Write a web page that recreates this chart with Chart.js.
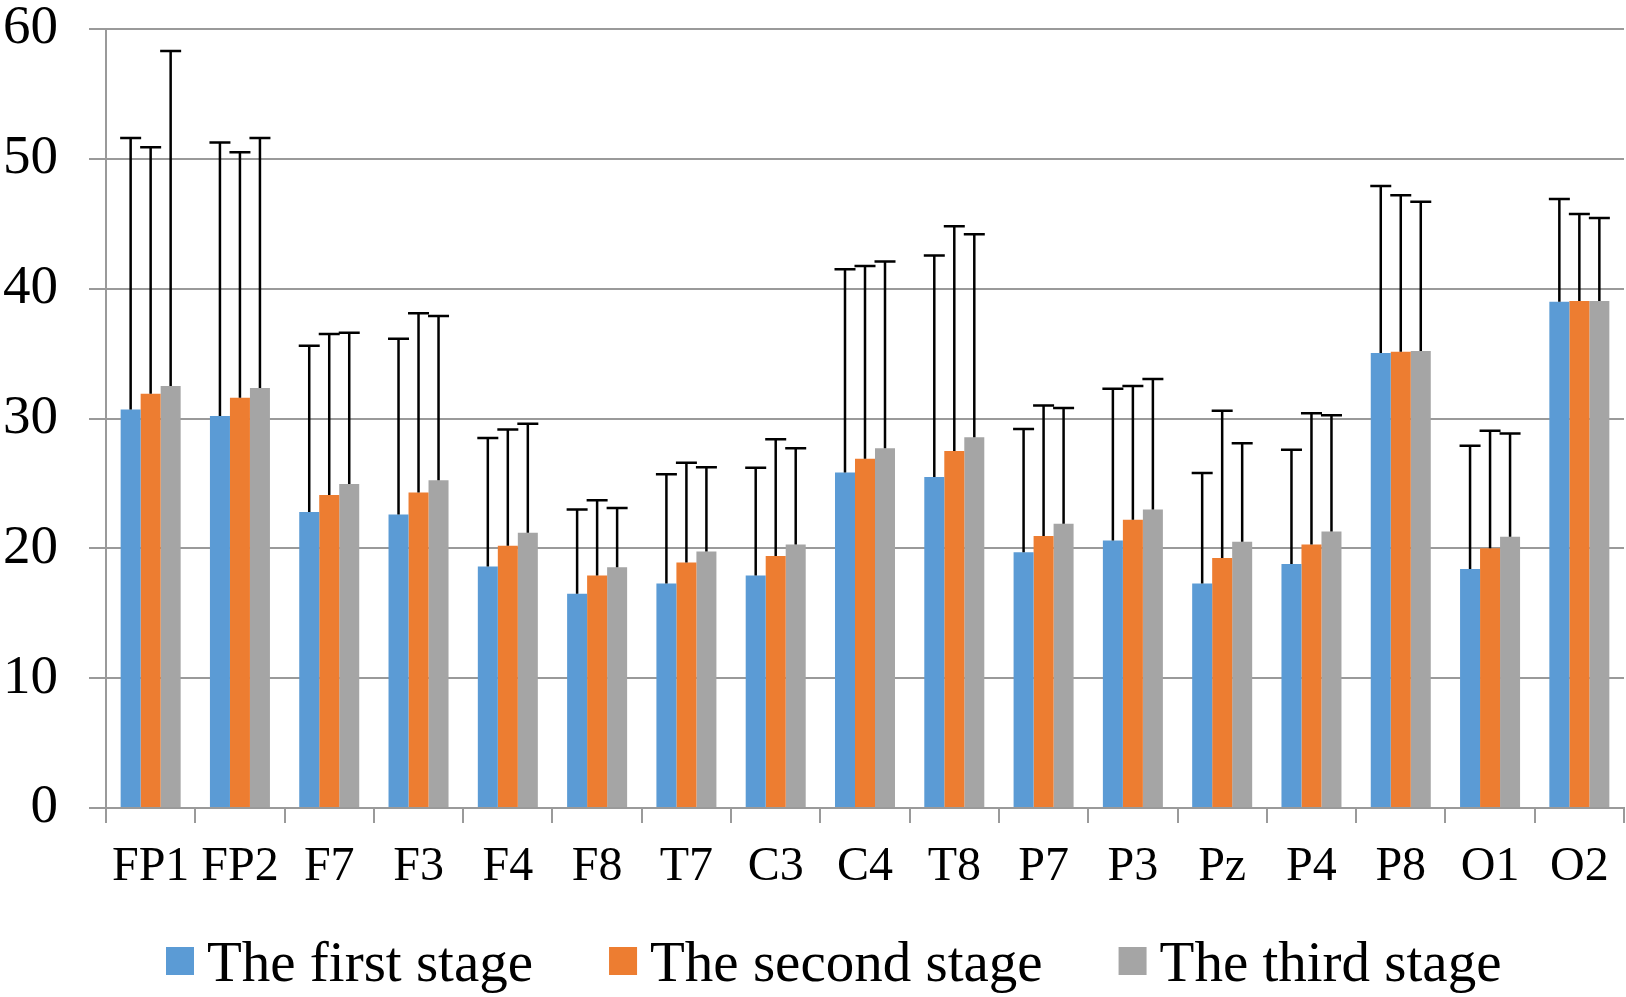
<!DOCTYPE html>
<html>
<head>
<meta charset="utf-8">
<script src="https://cdn.jsdelivr.net/npm/chart.js@4.4.1/dist/chart.umd.min.js"></script>
<style>
  html, body { margin: 0; padding: 0; background: #ffffff; }
  #wrap { width: 1626px; height: 997px; }
</style>
</head>
<body>
<div id="wrap"><canvas id="c" width="1626" height="997"></canvas></div>
<script>
const categories = ['FP1','FP2','F7','F3','F4','F8','T7','C3','C4','T8','P7','P3','Pz','P4','P8','O1','O2'];
const seriesNames = ['The first stage', 'The second stage', 'The third stage'];

const firstStage  = [30.7, 30.2, 22.8, 22.6, 18.6, 16.5, 17.3, 17.9, 25.85, 25.5, 19.7, 20.6, 17.3, 18.8, 35.05, 18.4, 39.0];
const secondStage = [31.9, 31.6, 24.1, 24.3, 20.2, 17.9, 18.9, 19.4, 26.9, 27.5, 20.95, 22.2, 19.25, 20.3, 35.15, 20.0, 39.05];
const thirdStage  = [32.5, 32.35, 24.95, 25.25, 21.2, 18.55, 19.75, 20.3, 27.7, 28.55, 21.9, 23.0, 20.5, 21.3, 35.2, 20.9, 39.05];

const firstSD  = [20.9, 21.05, 12.8, 13.55, 9.9, 6.5, 8.4, 8.3, 15.65, 17.05, 9.5, 11.7, 8.5, 8.8, 12.85, 9.5, 7.9];
const secondSD = [19.0, 18.9, 12.4, 13.8, 8.95, 5.8, 7.7, 9.0, 14.85, 17.3, 10.05, 10.3, 11.35, 10.1, 12.05, 9.05, 6.7];
const thirdSD  = [25.8, 19.25, 11.65, 12.65, 8.4, 4.55, 6.5, 7.4, 14.4, 15.65, 8.9, 10.05, 7.6, 8.95, 11.5, 7.95, 6.4];

const yTicks = [0, 10, 20, 30, 40, 50, 60];

const colors = ['#5B9BD5', '#ED7D31', '#A5A5A5'];
const axisGray = '#9a9a9a';
const fontFamily = '"Liberation Serif", "Times New Roman", serif';

const errorBarPlugin = {
  id: 'errorBars',
  afterDatasetsDraw(chart) {
    const ctx = chart.ctx;
    const yScale = chart.scales.y;
    ctx.save();
    ctx.strokeStyle = '#000000';
    ctx.lineWidth = 2.5;
    chart.data.datasets.forEach((ds, di) => {
      const meta = chart.getDatasetMeta(di);
      meta.data.forEach((bar, i) => {
        const v = ds.data[i];
        const sd = ds.errors[i];
        const x = bar.x;
        const yTop = yScale.getPixelForValue(v + sd);
        const yBase = yScale.getPixelForValue(v);
        const cap = 10.5;
        ctx.beginPath();
        ctx.moveTo(x, yBase);
        ctx.lineTo(x, yTop);
        ctx.moveTo(x - cap, yTop);
        ctx.lineTo(x + cap, yTop);
        ctx.stroke();
      });
    });
    ctx.restore();
  }
};

// Legend drawn on the canvas, spaced like the reference (box, small gap, text, wide gap)
const legendPlugin = {
  id: 'stageLegend',
  afterDraw(chart) {
    const ctx = chart.ctx;
    ctx.save();
    ctx.font = '57px ' + fontFamily;
    ctx.textBaseline = 'alphabetic';
    ctx.textAlign = 'left';
    const box = 28, boxGap = 13, itemGap = 76;
    let x = 166;
    const boxTop = 947, baseline = 981;
    chart.data.datasets.forEach((ds) => {
      ctx.fillStyle = ds.backgroundColor;
      ctx.fillRect(x, boxTop, box, box);
      x += box + boxGap;
      ctx.fillStyle = '#000000';
      ctx.fillText(ds.label, x, baseline);
      x += ctx.measureText(ds.label).width + itemGap;
    });
    ctx.restore();
  }
};

new Chart(document.getElementById('c'), {
  type: 'bar',
  data: {
    labels: categories,
    datasets: [
      { label: seriesNames[0], data: firstStage, errors: firstSD, backgroundColor: colors[0] },
      { label: seriesNames[1], data: secondStage, errors: secondSD, backgroundColor: colors[1] },
      { label: seriesNames[2], data: thirdStage, errors: thirdSD, backgroundColor: colors[2] }
    ]
  },
  options: {
    responsive: false,
    animation: false,
    devicePixelRatio: 1,
    layout: { padding: { left: 0, right: 2, top: 29, bottom: 89 } },
    datasets: {
      bar: { categoryPercentage: 0.672, barPercentage: 1.0, borderWidth: 0 }
    },
    plugins: {
      tooltip: { enabled: false },
      legend: { display: false }
    },
    scales: {
      x: {
        afterFit(scale) { scale.height = 100; },
        grid: {
          display: true,
          drawOnChartArea: false,
          drawTicks: true,
          tickLength: 15,
          offset: true,
          color: axisGray,
          lineWidth: 2
        },
        border: { display: true, color: axisGray, width: 2 },
        ticks: {
          color: '#000000',
          font: { family: fontFamily, size: 48 },
          padding: 16,
          maxRotation: 0,
          autoSkip: false
        }
      },
      y: {
        min: 0,
        max: 60,
        afterBuildTicks(scale) {
          scale.ticks = yTicks.map(v => ({ value: v }));
        },
        afterFit(scale) {
          scale.width = 106;
          scale.paddingTop = 0;
          scale.paddingBottom = 0;
        },
        grid: {
          color: axisGray,
          lineWidth: 2,
          drawTicks: true,
          tickLength: 17
        },
        border: { display: true, color: axisGray, width: 2 },
        ticks: {
          color: '#000000',
          font: { family: fontFamily, size: 55, lineHeight: 1.0 },
          padding: 31
        }
      }
    }
  },
  plugins: [errorBarPlugin, legendPlugin]
});
</script>
</body>
</html>
